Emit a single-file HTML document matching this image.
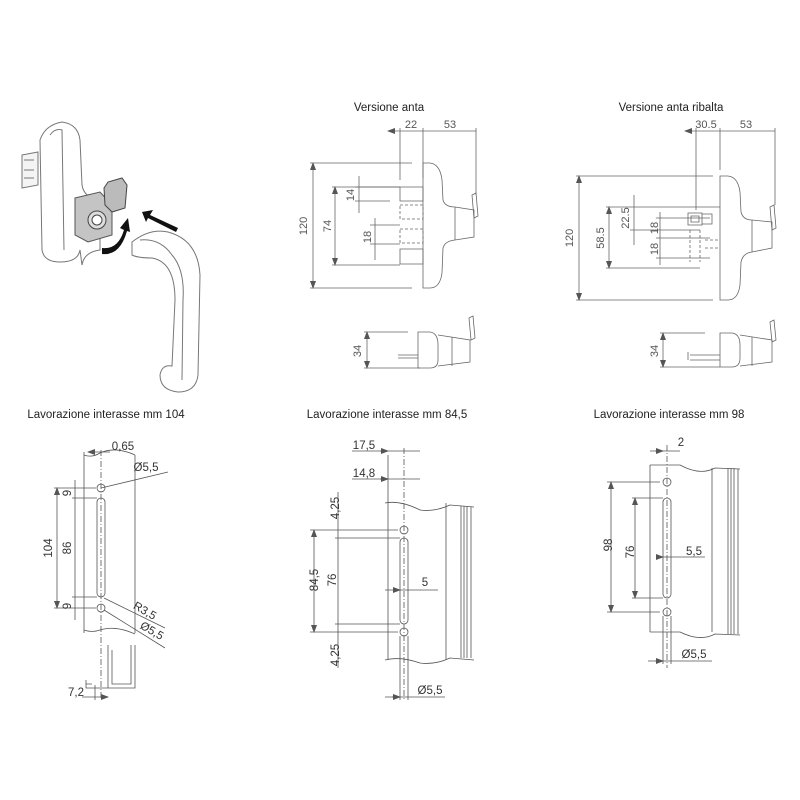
<!DOCTYPE html>
<html><head><meta charset="utf-8"><style>
html,body{margin:0;padding:0;background:#fff;width:800px;height:800px;overflow:hidden}
svg text{font-family:"Liberation Sans",sans-serif;}
</style></head><body>
<svg width="800" height="800" viewBox="0 0 800 800" xmlns="http://www.w3.org/2000/svg">
<defs>
<marker id="a" markerWidth="8" markerHeight="6" refX="7" refY="3" orient="auto-start-reverse" markerUnits="userSpaceOnUse"><path d="M0,0 L8,3 L0,6z" fill="#555"/></marker>
</defs>
<rect width="800" height="800" fill="#fff"/>

<!-- Left illustration -->
<g fill="none" stroke="#777" stroke-width="1">
<path d="M22,155 L38,152 L38,185 L22,188z" fill="#f4f4f4"/>
<path d="M24,160 h10 M24,170 h10 M24,178 h10"/>
<path d="M40,140 Q45,125 62,122 Q78,124 80,140 L82,185 Q84,198 100,200 L100,250 Q84,252 82,265 L80,250 Q78,262 60,262 Q44,262 42,250z" fill="#fff"/>
<path d="M50,135 Q55,128 62,130 L64,250"/>
<path d="M75,198 L100,192 L112,205 L112,235 L88,242 L75,235z" fill="#c4c4c4" stroke="#555"/>
<circle cx="97" cy="220" r="9" fill="#ddd" stroke="#444"/><circle cx="97" cy="220" r="5" fill="#fff" stroke="#444"/>
<path d="M104,188 L108,182 L122,178 L127,185 L125,208 L112,212 L105,205z" fill="#bbb" stroke="#444"/>
<path d="M132,242 Q150,228 168,232 Q198,240 200,275 L198,375 Q196,392 178,392 Q160,390 160,375 Q162,364 172,366 L175,300 Q175,262 152,258 Q138,258 132,255z" fill="#fff"/>
<path d="M140,240 Q160,238 172,255 Q185,270 183,300 L182,380"/>
</g>
<path d="M102,248 Q118,250 124,230 L120,228 L128,218 L130,232 L127,231 Q120,256 102,254z" fill="#111"/>
<path d="M178,228 L150,215 L153,210 L142,212 L146,222 L148,218 L176,232z" fill="#111"/>

<!-- Titles -->
<g font-size="11.5" fill="#222" text-anchor="middle">
<text x="389" y="111">Versione anta</text>
<text x="671" y="111">Versione anta ribalta</text>
<text x="106" y="418">Lavorazione interasse mm 104</text>
<text x="387" y="418">Lavorazione interasse mm 84,5</text>
<text x="669" y="418">Lavorazione interasse mm 98</text>
</g>

<!-- Versione anta -->
<g fill="none" stroke="#666" stroke-width="0.8">
<path d="M388,131 H476" marker-start="url(#a)"/>
<path d="M400,128 V180 M423,128 V178 M476,128 V195"/>
<path d="M423,163 H430 Q440,164 442,180 L443,200 Q445,207 455,207 L474,210 L474,237 L455,240 Q445,241 443,248 L442,273 Q440,288 430,288 H423z"/>
<path d="M455,207 V240"/>
<path d="M472,195 L476,193 L478,216 L474,218z"/>
<path d="M313,163 V288" marker-start="url(#a)" marker-end="url(#a)"/>
<path d="M310,163 H412 M310,288 H412"/>
<path d="M335,187 V265" marker-start="url(#a)" marker-end="url(#a)"/>
<path d="M332,187 H400 M332,265 H400"/>
<path d="M359,176 V213 M355,187 H400 M355,201 H390"/>
<path d="M375,218 V260 M370,225 H400 M370,244 H400"/>
<path d="M400,187 H423 V201 H400z M400,249 H423 V264 H400z"/>
<path d="M400,205 H423 V219 H400z M400,229 H423 V243 H400z" stroke-dasharray="3,2"/>
<path d="M367,332 V368" marker-start="url(#a)" marker-end="url(#a)"/>
<path d="M364,332 H408 M364,368 H420"/>
<path d="M418,332 H430 Q438,333 438,345 V360 Q438,368 430,368 H418z M438,335 L470,340 L470,362 L438,366 M452,337 V366 M398,355 H418 V358 H398"/>
<path d="M469,318 L473,316 L475,338 L471,340z"/>
</g>
<g font-size="11" fill="#555" text-anchor="middle">
<text x="411" y="128">22</text><text x="450" y="128">53</text>
<text transform="translate(307,226) rotate(-90)">120</text>
<text transform="translate(331,226) rotate(-90)">74</text>
<text transform="translate(354,195) rotate(-90)">14</text>
<text transform="translate(371,237) rotate(-90)">18</text>
<text transform="translate(361,351) rotate(-90)">34</text>
</g>

<!-- Versione anta ribalta -->
<g fill="none" stroke="#666" stroke-width="0.8">
<path d="M685,131 H775" marker-start="url(#a)"/>
<path d="M696,128 V210 M720,128 V170 M775,128 V205"/>
<path d="M720,176 H728 Q738,177 740,192 L741,212 Q743,220 752,220 L772,222 L772,248 L752,252 Q743,253 741,262 L740,285 Q738,300 728,300 H720z M752,220 V252"/>
<path d="M770,207 L774,205 L776,228 L772,230z"/>
<path d="M579,176 V300" marker-start="url(#a)" marker-end="url(#a)"/>
<path d="M576,176 H713 M576,300 H713"/>
<path d="M609,207 V268" marker-start="url(#a)" marker-end="url(#a)"/>
<path d="M606,207 H720 M606,268 H700"/>
<path d="M634,195 V245 M630,230 H700"/>
<path d="M660,212 V265 M656,218 H710 M656,238 H710 M656,258 H710"/>
<path d="M688,213 H702 V225 H688z M691,216 H699 V222 H691z M702,214 H712 V224 H702"/>
<path d="M690,230 V262 M700,230 V262 M705,240 H718 M705,248 H718" stroke-dasharray="3,2"/>
<path d="M663,333 V367" marker-start="url(#a)" marker-end="url(#a)"/>
<path d="M660,333 H705 M660,367 H720"/>
<path d="M720,333 H732 Q740,334 740,345 V358 Q740,367 732,367 H720z M740,335 L772,340 L772,362 L740,366 M752,337 V366 M690,355 H720 V360 H690 M688,352 V360"/>
<path d="M770,322 L774,320 L776,340 L772,342z"/>
</g>
<g font-size="11" fill="#555" text-anchor="middle">
<text x="706" y="128">30.5</text><text x="746" y="128">53</text>
<text transform="translate(573,238) rotate(-90)">120</text>
<text transform="translate(604,238) rotate(-90)">58.5</text>
<text transform="translate(629,218) rotate(-90)">22.5</text>
<text transform="translate(658,228) rotate(-90)">18</text>
<text transform="translate(658,249) rotate(-90)">18</text>
<text transform="translate(658,351) rotate(-90)">34</text>
</g>

<!-- Bottom left 104 -->
<g fill="none" stroke="#555" stroke-width="0.8">
<path d="M84,452 V633 M135,455 V633"/>
<path d="M84,455 Q92,458 100,453 Q115,446 135,455 M84,630 Q92,633 100,630 Q115,625 135,634"/>
<path d="M101,450 V700" stroke-dasharray="6,2,1,2"/>
<path d="M88,452 H110" marker-start="url(#a)"/>
<circle cx="101" cy="488" r="4"/><circle cx="101" cy="608" r="4"/>
<rect x="97" y="498" width="8" height="99" rx="4"/>
<path d="M101,488 L168,472 M104,598 L165,628 M104,610 L165,648"/>
<path d="M57,488 V608" marker-start="url(#a)" marker-end="url(#a)"/>
<path d="M54,488 H96 M54,608 H96 M72,498 H97 M72,597 H97"/>
<path d="M75,480 V620 M75,498 V597"/>
<path d="M108,645 V688 H135 V645 M112,650 V684 H131 V645 M86,680 V688 H108 M86,684 H92"/>
<path d="M82,697 H108" marker-end="url(#a)"/>
<path d="M95,685 V700"/>
</g>
<g font-size="11.5" fill="#333" text-anchor="middle">
<text x="123" y="450">0,65</text>
<text x="146" y="471">Ø5,5</text>
<text transform="translate(52,548) rotate(-90)">104</text>
<text transform="translate(71,548) rotate(-90)">86</text>
<text transform="translate(71,493) rotate(-90)">9</text>
<text transform="translate(71,606) rotate(-90)">9</text>
<text transform="translate(143,614) rotate(30)">R3,5</text>
<text transform="translate(150,634) rotate(30)">Ø5,5</text>
<text x="76" y="696">7,2</text>
</g>

<!-- Bottom middle 84,5 -->
<g fill="none" stroke="#555" stroke-width="0.8">
<path d="M388,455 V660 M446,503 V660 M461,506 V658 M464,506 V658 M467,506 V658 M471,507 V658"/>
<path d="M385,503 Q400,500 420,510 Q435,512 450,505 L474,507 M385,660 Q400,656 420,663 Q435,665 450,658 L474,660"/>
<path d="M404,448 V700" stroke-dasharray="6,2,1,2"/>
<path d="M352,451 H420 M352,479 H420"/>
<path d="M380,451 H388" marker-end="url(#a)"/>
<path d="M380,479 H388" marker-end="url(#a)"/>
<circle cx="404" cy="530" r="4"/><circle cx="404" cy="632" r="4"/>
<rect x="400" y="538" width="8" height="86" rx="4"/>
<path d="M314,530 V632" marker-start="url(#a)" marker-end="url(#a)"/>
<path d="M310,530 H398 M310,632 H398 M335,538 H400 M335,624 H400"/>
<path d="M338,492 V668"/>
<path d="M385,590 H438"/>
<path d="M394,590 H400" marker-end="url(#a)"/>
<path d="M400,636 V700 M408,636 V700 M385,697 H445"/>
<path d="M392,697 H400" marker-end="url(#a)"/>
</g>
<g font-size="11.5" fill="#333" text-anchor="middle">
<text x="364" y="449">17,5</text>
<text x="364" y="477">14,8</text>
<text transform="translate(339,508) rotate(-90)">4,25</text>
<text transform="translate(339,655) rotate(-90)">4,25</text>
<text transform="translate(318,580) rotate(-90)">84,5</text>
<text transform="translate(336,580) rotate(-90)">76</text>
<text x="425" y="586">5</text>
<text x="430" y="694">Ø5,5</text>
</g>

<!-- Bottom right 98 -->
<g fill="none" stroke="#555" stroke-width="0.8">
<path d="M650,465 V632 M712,468 V632 M728,468 V634 M731,468 V634 M734,468 V634 M738,469 V634"/>
<path d="M650,465 L680,465 Q700,476 715,468 L740,469 M650,632 L680,632 Q700,642 715,634 L740,635"/>
<path d="M667,445 V668" stroke-dasharray="6,2,1,2"/>
<path d="M650,451 H680"/>
<path d="M655,451 H663" marker-end="url(#a)"/>
<circle cx="667" cy="482" r="4"/><circle cx="667" cy="612" r="4"/>
<rect x="663" y="498" width="8" height="100" rx="4"/>
<path d="M611,482 V612" marker-start="url(#a)" marker-end="url(#a)"/>
<path d="M607,482 H660 M607,612 H660 M632,498 H663 M632,598 H663"/>
<path d="M635,498 V598" marker-start="url(#a)" marker-end="url(#a)"/>
<path d="M657,557 H705"/>
<path d="M657,557 H663" marker-end="url(#a)"/>
<path d="M663,616 V664 M671,616 V664 M648,661 H712"/>
<path d="M655,661 H663" marker-end="url(#a)"/>
</g>
<g font-size="11.5" fill="#333" text-anchor="middle">
<text x="681" y="446">2</text>
<text transform="translate(612,545) rotate(-90)">98</text>
<text transform="translate(634,552) rotate(-90)">76</text>
<text x="694" y="555">5,5</text>
<text x="694" y="658">Ø5,5</text>
</g>
</svg>
</body></html>
